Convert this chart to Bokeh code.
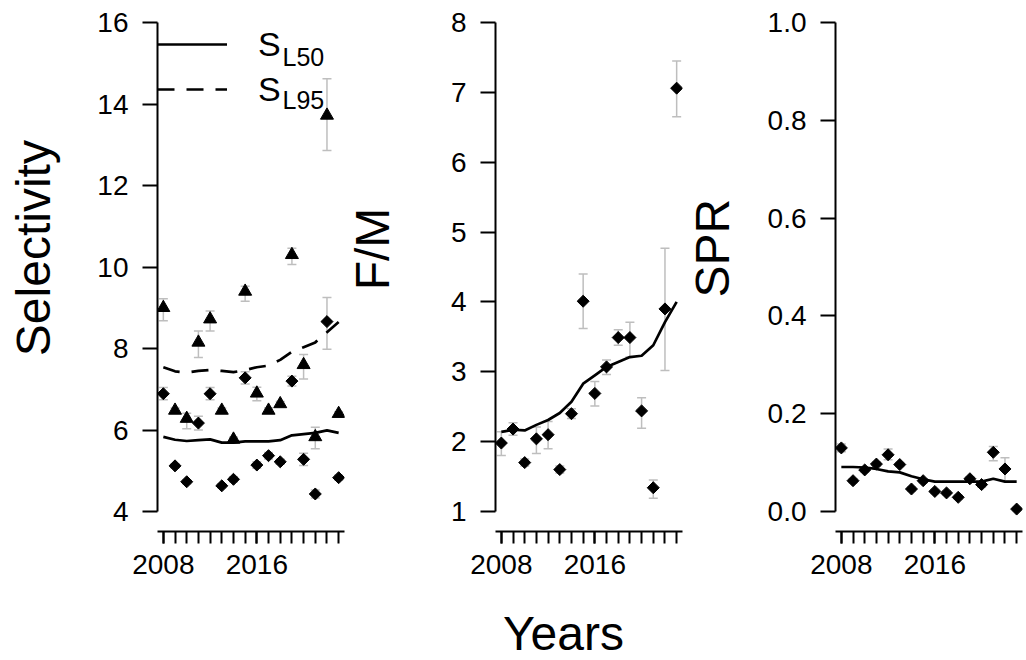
import math
from bokeh.plotting import figure
from bokeh.models import (Range1d, LinearAxis, FixedTicker, NumeralTickFormatter, Whisker,
                          TeeHead, ColumnDataSource, Legend, LegendItem, Label)
from bokeh.layouts import row, column
from bokeh.embed import file_html
from bokeh.resources import INLINE

# ---------------- data ----------------
years = list(range(2008, 2024))
year_labels = [2008, 2016]

# Selectivity panel
sl50_obs = [6.89, 5.12, 4.73, 6.17, 6.89, 4.63, 4.79, 7.28, 5.14, 5.37, 5.22, 7.20, 5.28, 4.43, 8.66, 4.83]
sl50_lo  = [6.74, 5.07, 4.68, 6.00, 6.74, 4.58, 4.73, 7.13, 5.06, 5.29, 5.16, 7.08, 5.13, 4.33, 7.98, 4.77]
sl50_hi  = [7.04, 5.17, 4.78, 6.34, 7.04, 4.68, 4.85, 7.43, 5.22, 5.45, 5.28, 7.32, 5.43, 4.53, 9.25, 4.89]
sl95_obs = [9.00, 6.48, 6.28, 8.15, 8.72, 6.48, 5.77, 9.40, 6.90, 6.48, 6.64, 10.30, 7.60, 5.83, 13.72, 6.40]
sl95_lo  = [8.68, 6.42, 6.03, 7.78, 8.43, 6.42, 5.72, 9.16, 6.72, 6.42, 6.58, 10.06, 7.25, 5.54, 12.86, 6.35]
sl95_hi  = [9.22, 6.54, 6.41, 8.43, 8.92, 6.54, 5.82, 9.53, 7.05, 6.54, 6.70, 10.46, 7.85, 6.07, 14.62, 6.45]
sl50_fit = [5.83, 5.76, 5.73, 5.75, 5.77, 5.69, 5.69, 5.72, 5.72, 5.72, 5.75, 5.87, 5.90, 5.93, 5.99, 5.93]
sl95_fit = [7.54, 7.44, 7.41, 7.45, 7.47, 7.45, 7.42, 7.47, 7.54, 7.58, 7.72, 7.92, 8.03, 8.15, 8.40, 8.65]

# F/M panel
fm_obs = [1.98, 2.18, 1.70, 2.04, 2.10, 1.60, 2.40, 4.01, 2.69, 3.07, 3.49, 3.49, 2.44, 1.34, 3.90, 7.06]
fm_lo  = [1.80, 2.09, 1.65, 1.83, 1.90, 1.55, 2.33, 3.62, 2.51, 2.96, 3.38, 3.21, 2.19, 1.19, 3.02, 6.65]
fm_hi  = [2.14, 2.27, 1.75, 2.21, 2.29, 1.65, 2.47, 4.40, 2.86, 3.17, 3.60, 3.71, 2.63, 1.45, 4.77, 7.45]
fm_fit = [2.14, 2.17, 2.16, 2.24, 2.31, 2.41, 2.57, 2.83, 2.95, 3.07, 3.14, 3.21, 3.23, 3.38, 3.71, 4.00]

# SPR panel
spr_obs = [0.130, 0.063, 0.085, 0.097, 0.116, 0.096, 0.046, 0.063, 0.041, 0.038, 0.029, 0.067, 0.055, 0.121, 0.087, 0.005]
spr_lo  = [0.122, 0.059, 0.081, 0.093, 0.106, 0.092, 0.042, 0.059, 0.037, 0.034, 0.025, 0.063, 0.050, 0.104, 0.062, 0.002]
spr_hi  = [0.138, 0.067, 0.089, 0.101, 0.128, 0.100, 0.050, 0.067, 0.045, 0.042, 0.033, 0.071, 0.060, 0.133, 0.110, 0.008]
spr_fit = [0.091, 0.091, 0.090, 0.087, 0.082, 0.080, 0.072, 0.066, 0.061, 0.061, 0.061, 0.061, 0.061, 0.067, 0.061, 0.061]

sel_ticks = [4, 6, 8, 10, 12, 14, 16]
fm_ticks = [1, 2, 3, 4, 5, 6, 7, 8]
spr_ticks = [0.0, 0.2, 0.4, 0.6, 0.8, 1.0]

# ---------------- style ----------------
FONT = "Liberation Sans"
ERR = "#BEBEBE"
TICK_FS = "28px"
TITLE_FS = "48px"
ROW_H = 600
TOP = 22
FRAME_H = 509
GAP_PX = 20          # gap between lowest y tick and the x axis
AXIS_H = FRAME_H - GAP_PX


def make_panel(width, left, right, ticks, fmt):
    lo, hi = ticks[0], ticks[-1]
    y0 = lo - (hi - lo) * GAP_PX / AXIS_H
    p = figure(width=width, height=ROW_H, x_range=Range1d(2007.5, 2023.5), y_range=Range1d(y0, hi),
               x_axis_type=None, y_axis_type=None, output_backend="svg", toolbar_location=None,
               min_border_left=left, min_border_right=right, min_border_top=TOP,
               min_border_bottom=ROW_H - TOP - FRAME_H, title=None)
    p.outline_line_color = None
    p.background_fill_color = "white"
    p.border_fill_color = "white"

    yax = LinearAxis(ticker=FixedTicker(ticks=ticks), formatter=NumeralTickFormatter(format=fmt),
                     bounds=(lo, hi))
    yax.axis_line_color = "black"
    yax.axis_line_width = 2
    yax.major_tick_line_color = "black"
    yax.major_tick_line_width = 2
    yax.major_tick_out = 15
    yax.major_tick_in = 0
    yax.minor_tick_line_color = None
    yax.major_label_standoff = 14
    yax.major_label_text_font = FONT
    yax.major_label_text_font_size = TICK_FS
    yax.major_label_text_color = "black"
    p.add_layout(yax, "left")

    xax = LinearAxis(ticker=FixedTicker(ticks=year_labels, minor_ticks=years),
                     formatter=NumeralTickFormatter(format="0"))
    xax.axis_line_color = "black"
    xax.axis_line_width = 2
    xax.major_tick_line_color = "black"
    xax.major_tick_line_width = 2
    xax.major_tick_out = 12
    xax.major_tick_in = 0
    xax.minor_tick_line_color = "black"
    xax.minor_tick_line_width = 2
    xax.minor_tick_out = 12
    xax.minor_tick_in = 0
    xax.major_label_standoff = 11
    xax.major_label_text_font = FONT
    xax.major_label_text_font_size = TICK_FS
    xax.major_label_text_color = "black"
    p.add_layout(xax, "below")
    return p


def text_fig(width, height):
    p = figure(width=width, height=height, x_range=Range1d(0, width), y_range=Range1d(0, height),
               x_axis_type=None, y_axis_type=None, output_backend="svg", toolbar_location=None,
               min_border_left=0, min_border_right=0, min_border_top=0, min_border_bottom=0,
               title=None)
    p.outline_line_color = None
    p.background_fill_color = "white"
    p.border_fill_color = "white"
    return p


def ytitle_fig(width, text, center_x, center_y):
    p = text_fig(width, ROW_H)
    p.add_layout(Label(x=center_x, y=ROW_H - center_y, text=text, angle=math.pi / 2,
                       text_align="center", text_baseline="middle",
                       text_font=FONT, text_font_size=TITLE_FS, text_color="black"))
    return p


def add_whisker(p, lo, hi):
    src = ColumnDataSource(dict(x=years, lo=lo, hi=hi))
    w = Whisker(base="x", lower="lo", upper="hi", source=src, dimension="height",
                line_color=ERR, line_width=1.5,
                upper_head=TeeHead(size=9, line_color=ERR, line_width=1.5),
                lower_head=TeeHead(size=9, line_color=ERR, line_width=1.5))
    p.add_layout(w)


# ---------------- panel 1: selectivity ----------------
t1 = ytitle_fig(92, "Selectivity", 33, 266)
p1 = make_panel(254, 65, 2, sel_ticks, "0")
add_whisker(p1, sl50_lo, sl50_hi)
add_whisker(p1, sl95_lo, sl95_hi)
r50 = p1.line(years, sl50_fit, line_color="black", line_width=2.7, line_join="round")
r95 = p1.line(years, sl95_fit, line_color="black", line_width=2.7, line_join="round",
              line_dash="17 12")
p1.scatter(years, sl95_obs, marker="triangle", size=13, color="black")
p1.scatter(years, sl50_obs, marker="square", angle=math.pi / 4, size=8.5, color="black")

legend = Legend(items=[LegendItem(label="S", renderers=[r50]), LegendItem(label="S", renderers=[r95])],
                location="top_left", padding=0, margin=0, spacing=1,
                glyph_width=70, glyph_height=44, label_height=44, label_standoff=31,
                border_line_color=None, background_fill_alpha=0,
                label_text_font=FONT, label_text_font_size="34px", label_text_color="black")
p1.add_layout(legend)
for sub, yy in (("L50", 475), ("L95", 432)):
    p1.add_layout(Label(x=125, y=yy, x_units="screen", y_units="screen", text=sub,
                        text_align="left", text_baseline="middle",
                        text_font=FONT, text_font_size="25px", text_color="black"))

# ---------------- panel 2: F/M ----------------
t2 = ytitle_fig(86, "F/M", 26, 267)
p2 = make_panel(252, 63, 2, fm_ticks, "0")
add_whisker(p2, fm_lo, fm_hi)
p2.line(years, fm_fit, line_color="black", line_width=2.7, line_join="round")
p2.scatter(years, fm_obs, marker="square", angle=math.pi / 4, size=8.5, color="black")

# ---------------- panel 3: SPR ----------------
t3 = ytitle_fig(76, "SPR", 28, 266)
p3 = make_panel(264, 75, 2, spr_ticks, "0.0")
add_whisker(p3, spr_lo, spr_hi)
p3.line(years, spr_fit, line_color="black", line_width=2.7, line_join="round")
p3.scatter(years, spr_obs, marker="square", angle=math.pi / 4, size=8.5, color="black")

# ---------------- shared x title ----------------
bottom = text_fig(1024, 60)
bottom.add_layout(Label(x=563, y=27, text="Years", text_align="center", text_baseline="middle",
                        text_font=FONT, text_font_size=TITLE_FS, text_color="black"))

layout = column(row(t1, p1, t2, p2, t3, p3), bottom)
open("out.html", "w").write(file_html(layout, INLINE))
